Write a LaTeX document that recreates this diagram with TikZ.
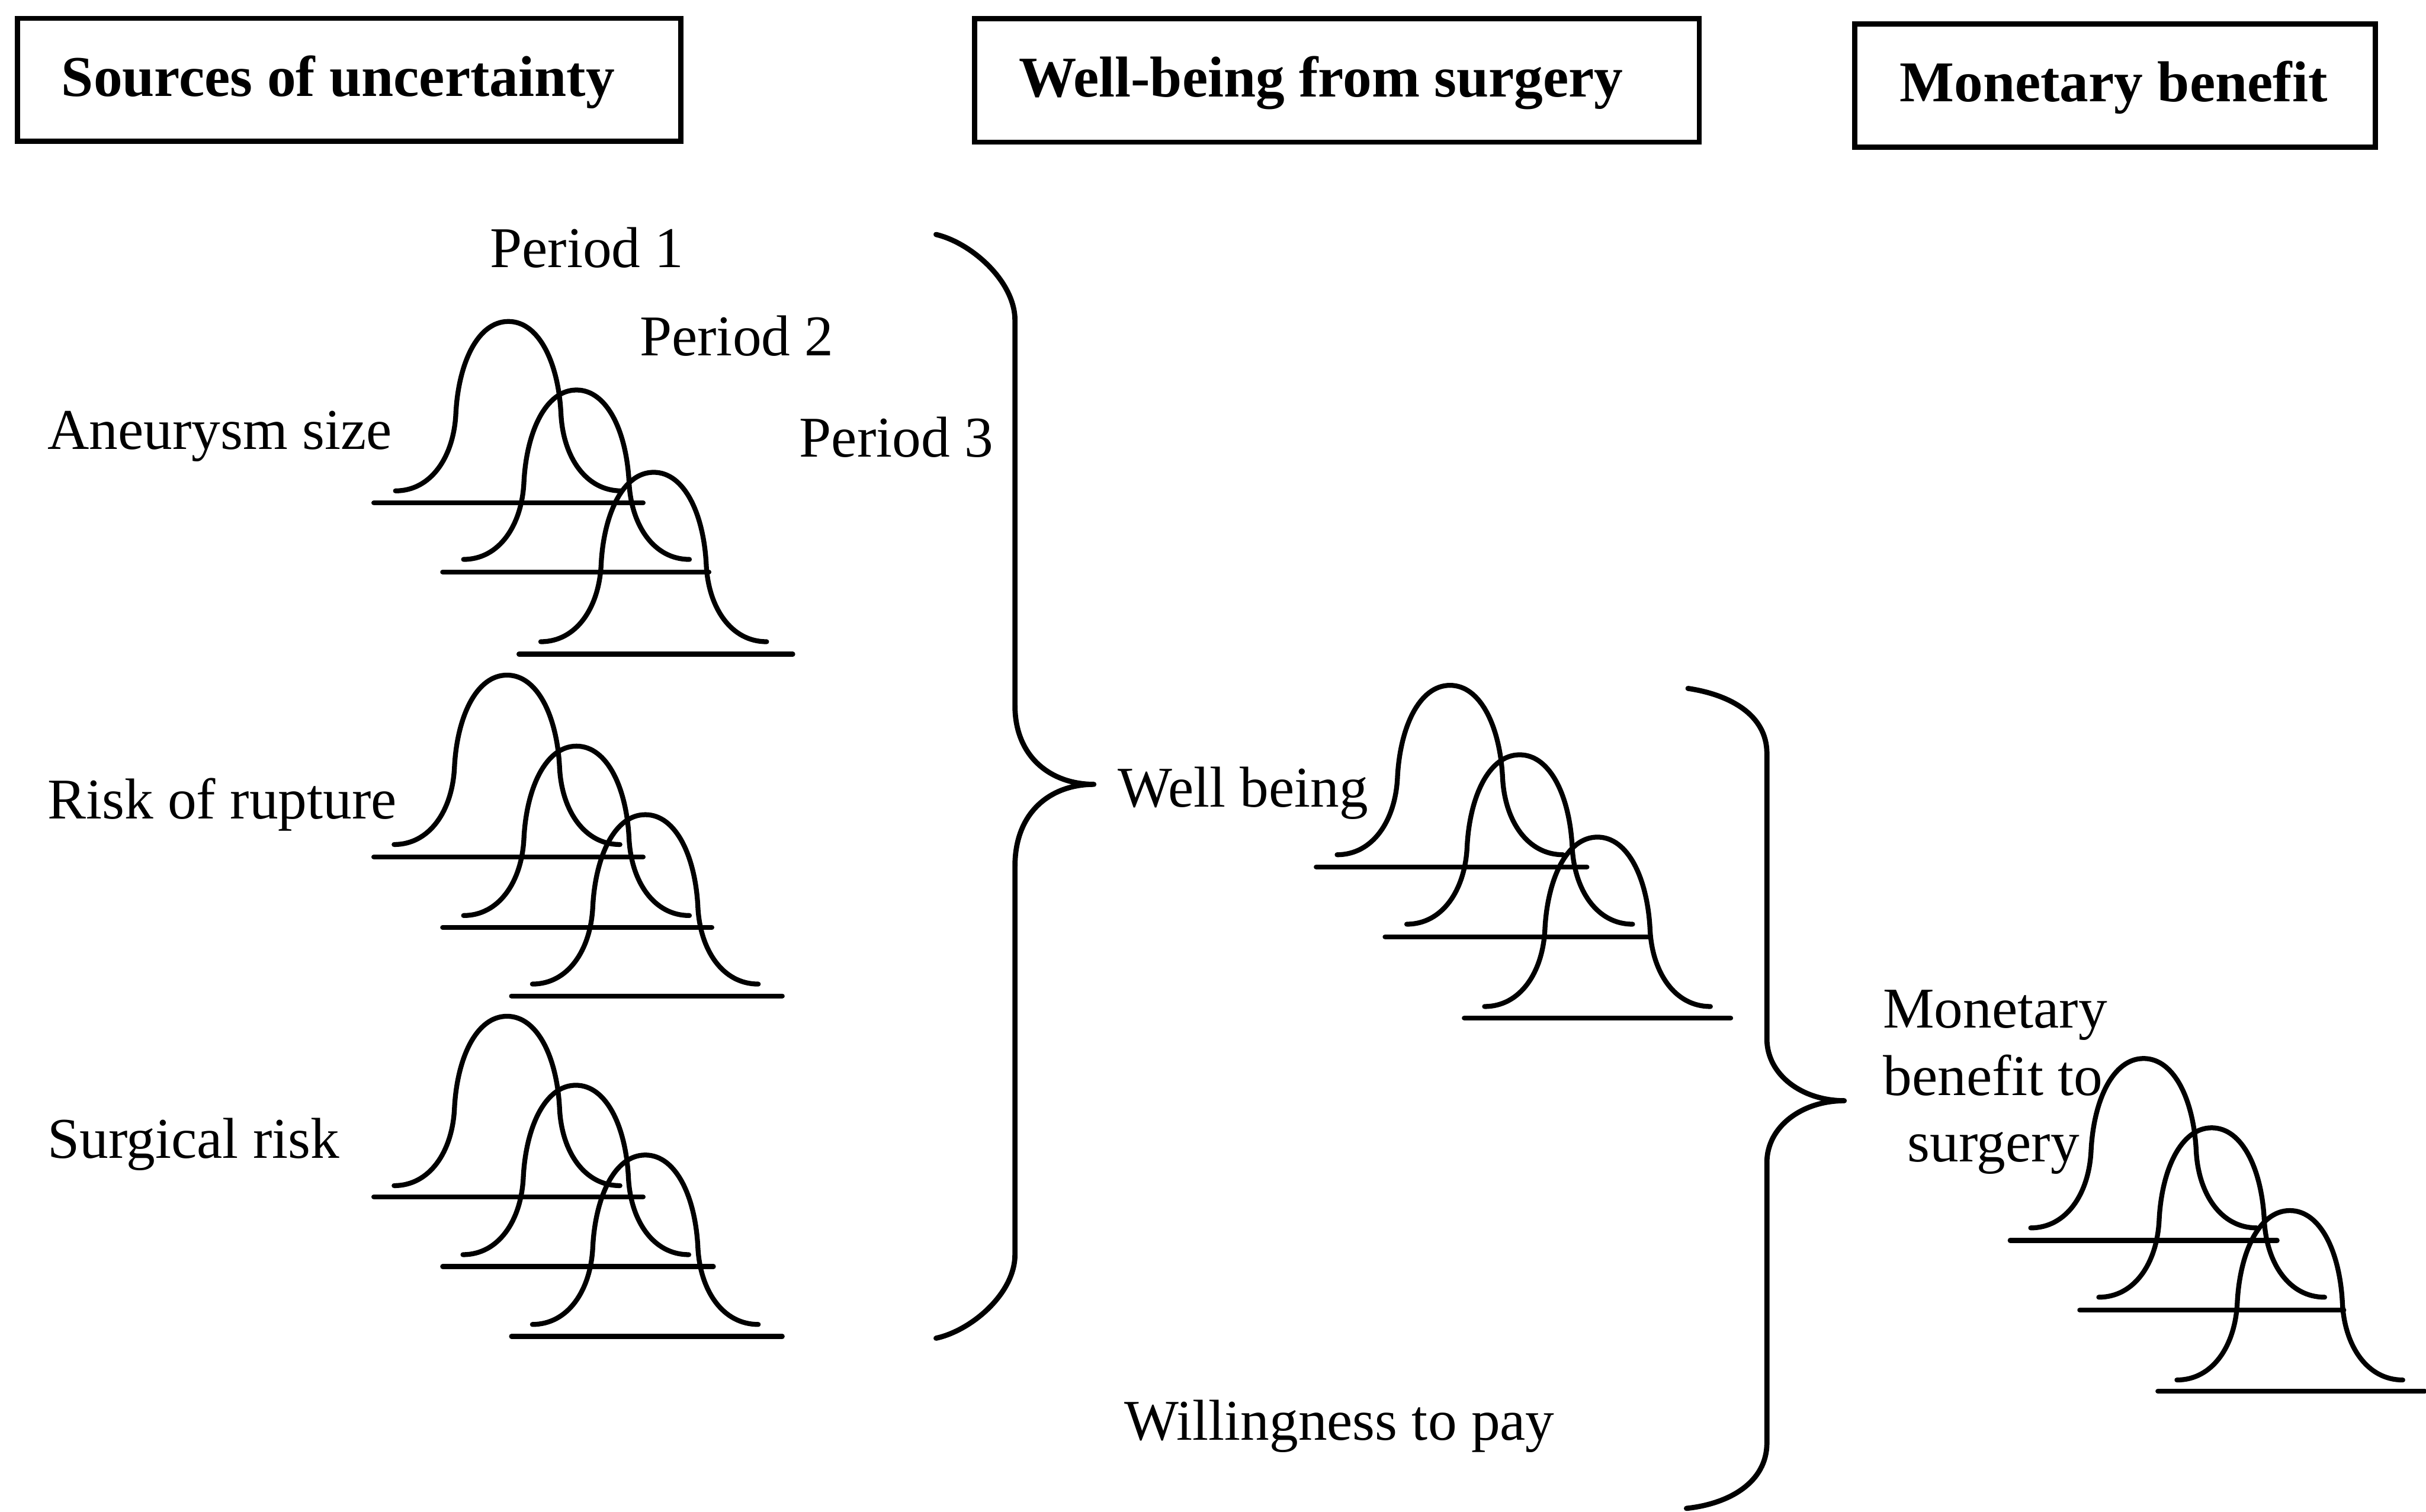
\documentclass[tikz,border=0pt]{standalone}
\usepackage{fontspec}
\setmainfont{Liberation Serif}
\begin{document}
\begin{tikzpicture}[x=0.01cm, y=-0.01cm,
  lbl/.style={inner sep=0pt, anchor=base west, font=\fontsize{10.6}{12.3}\selectfont},
  clbl/.style={lbl, anchor=base},
  hdr/.style={lbl, font=\fontsize{10.6}{12.3}\selectfont\bfseries},
  hbox/.style={draw, line width=0.95pt, inner sep=0pt},
  curve/.style={line width=0.9pt, line cap=round, line join=round},
  axisline/.style={line width=0.9pt, line cap=round},
  bracepath/.style={line width=0.95pt, line cap=round, line join=round},
  bell/.pic={
    \draw[curve] (-73,0) .. controls (-50,0) and (-35.5,-21.9) .. (-34,-49.3)
      .. controls (-32.5,-82.1) and (-20,-109.5) .. (0,-109.5)
      .. controls (20,-109.5) and (32.5,-82.1) .. (34,-49.3)
      .. controls (35.5,-21.9) and (50,0) .. (73,0);
  }]
\useasboundingbox (0,0) rectangle (1568,977);

% column headers
\node[hbox, minimum width=4.285cm, minimum height=0.795cm] (box1) at (225.55,51.65) {};
\node[hbox, minimum width=4.68cm, minimum height=0.797cm] (box2) at (864.1,52.05) {};
\node[hbox, minimum width=3.363cm, minimum height=0.795cm] (box3) at (1367.15,55.35) {};
\node[hdr] (h1) at (39.1,62.2) {Sources of uncertainty};
\node[hdr] (h2) at (657.8,62.7) {Well-being from surgery};
\node[hdr] (h3) at (1227.2,65.7) {Monetary benefit};

% period labels
\node[lbl] (per1) at (316,173) {Period 1};
\node[lbl] (per2) at (412.8,230) {Period 2};
\node[lbl] (per3) at (516,295.5) {Period 3};

% sources of uncertainty
\node[lbl] (src1) at (30,290.5) {Aneurysm size};
\node[lbl] (src2) at (30,529.3) {Risk of rupture};
\node[lbl] (src3) at (30,748.5) {Surgical risk};

% aneurysm size distributions
\draw[axisline] (241.6,325.0) -- (415.7,325.0);
\draw[axisline] (286.1,369.7) -- (458.2,369.7);
\draw[axisline] (335.4,422.8) -- (512.4,422.8);
\pic at (328.6,317.3) {bell};
\pic at (372.6,361.6) {bell};
\pic at (422.5,414.8) {bell};

% risk of rupture distributions
\draw[axisline] (241.6,553.9) -- (415.7,553.9);
\draw[axisline] (286.1,599.5) -- (460.1,599.5);
\draw[axisline] (330.6,643.8) -- (505.6,643.8);
\pic at (327.7,545.9) {bell};
\pic at (372.6,591.8) {bell};
\pic at (417.1,636.1) {bell};

% surgical risk distributions
\draw[axisline] (241.6,773.6) -- (415.7,773.6);
\draw[axisline] (286.1,818.7) -- (461.1,818.7);
\draw[axisline] (330.6,863.8) -- (505.6,863.8);
\pic at (327.7,766.4) {bell};
\pic at (372.2,811.0) {bell};
\pic at (417.1,856.1) {bell};

% first brace gathering the sources
\draw[bracepath] (605,151.6) .. controls (628,157) and (656,182) .. (656,207)
  -- (656,456) .. controls (656,490) and (680,507) .. (707,507)
  .. controls (680,507) and (656,524) .. (656,560)
  -- (656,811) .. controls (656,836) and (628,860) .. (605,865);

% well-being
\node[lbl] (wb) at (722,521.7) {Well being};
\draw[axisline] (850.7,560.4) -- (1025.7,560.4);
\draw[axisline] (895.2,605.5) -- (1066.3,605.5);
\draw[axisline] (946.4,658.1) -- (1118.6,658.1);
\pic at (937.2,552.5) {bell};
\pic at (982.2,597.4) {bell};
\pic at (1032.5,650.6) {bell};

\node[lbl] (wtp) at (726,931) {Willingness to pay};

% second brace gathering well-being and willingness to pay
\draw[bracepath] (1091,445) .. controls (1118,449) and (1142,462) .. (1142,487)
  -- (1142,671.4) .. controls (1142,695) and (1165,711.5) .. (1192,711.5)
  .. controls (1165,711.5) and (1142,728) .. (1142,751.5)
  -- (1142,932.7) .. controls (1142,958) and (1118,972) .. (1090,975);

% monetary benefit
\node[clbl] (mb1) at (1289.5,664.5) {Monetary};
\node[clbl] (mb2) at (1288.2,708) {benefit to};
\node[clbl] (mb3) at (1288.4,750.8) {surgery};
\draw[axisline] (1299.2,801.8) -- (1471.8,801.8);
\draw[axisline] (1344.2,846.9) -- (1514.9,846.9);
\draw[axisline] (1394.7,899.3) -- (1567.2,899.3);
\pic at (1385.5,793.7) {bell};
\pic at (1429.5,838.5) {bell};
\pic at (1480.0,892.0) {bell};
\end{tikzpicture}
\end{document}
